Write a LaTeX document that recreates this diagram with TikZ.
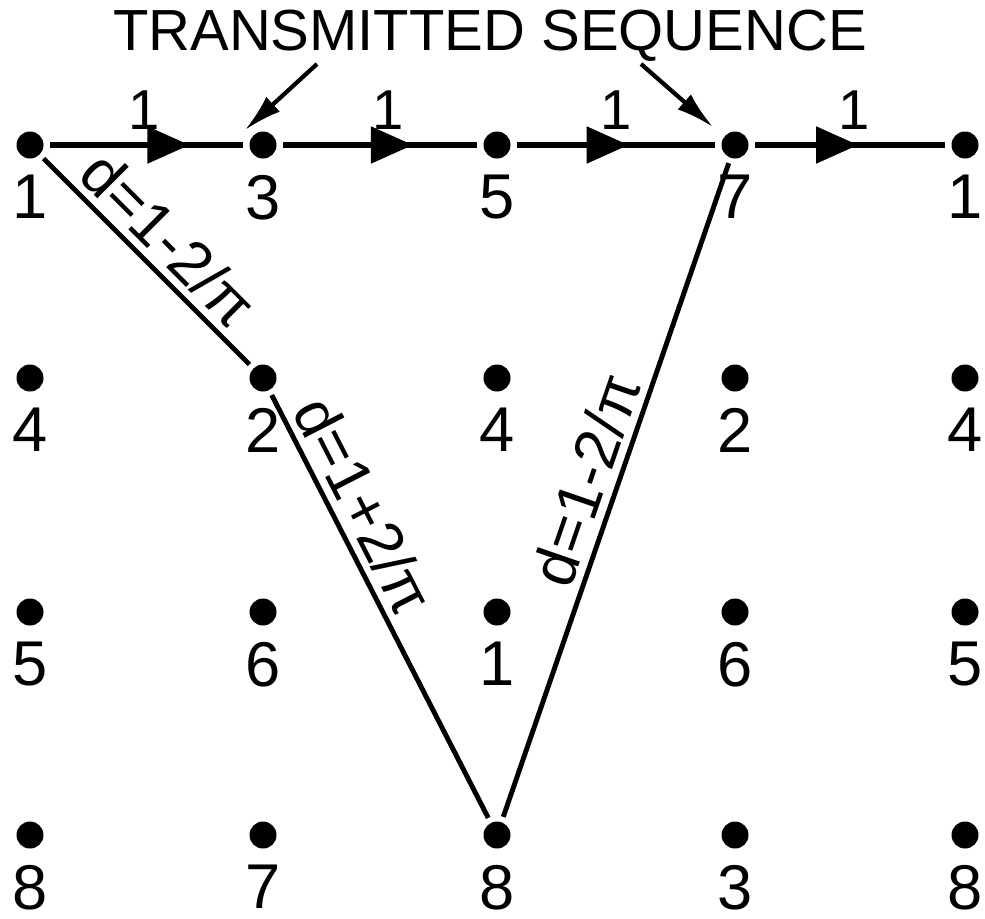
\documentclass[tikz,border=0pt]{standalone}
\usepackage{fontspec}
\setmainfont{Liberation Sans}
\usetikzlibrary{positioning,arrows.meta,decorations.markings}

\def\rowlabels{{1,3,5,7,1},{4,2,4,2,4},{5,6,1,6,5},{8,7,8,3,8}}

\begin{document}
\begin{tikzpicture}[
  dot/.style={circle,fill,inner sep=0pt,minimum size=0.27cm},
  num/.style={font=\fontsize{18}{18}\selectfont,inner sep=0pt},
  bit/.style={font=\fontsize{16}{16}\selectfont,inner sep=0pt},
  dist/.style={font=\fontsize{17.5}{17.5}\selectfont,sloped,above,inner sep=2pt},
  link/.style={line width=1.4pt,shorten <=0.05cm,shorten >=0.05cm},
  pointer/.style={line width=1.2pt,-{Latex[length=0.38cm,width=0.2cm]}},
  flow/.style={line width=1.5pt,shorten <=0.06cm,shorten >=0.06cm,postaction={decorate},
    decoration={markings,mark=at position #1 with {\arrow{Triangle[length=0.42cm,width=0.36cm]}}}}]
  \useasboundingbox (0,0) rectangle (9.85,-9.18);

  % signal points and their labels
  \foreach \y [count=\r from 0] in {-1.45,-3.78,-6.12,-8.35}
    \foreach \x [count=\c from 0] in {0.30,2.63,4.97,7.35,9.65} {
      \pgfmathtruncatemacro\lab{{\rowlabels}[\r][\c]}
      \node[dot] (d-\r-\c) at (\x,\y) {};
      \node[num,below=0.15cm of d-\r-\c] (n-\r-\c) {\lab};
    }

  % transmitted sequence
  \node[font=\fontsize{16.5}{16.5}\selectfont,inner sep=0pt] (head) at (4.90,-0.36) {TRANSMITTED SEQUENCE};
  \coordinate (s1) at (3.17,-0.64); \coordinate (t1) at (2.45,-1.30);
  \coordinate (s2) at (6.41,-0.64); \coordinate (t2) at (7.13,-1.27);
  \draw[pointer] (s1) -- (t1);
  \draw[pointer] (s2) -- (t2);

  \draw[flow=0.71] (d-0-0) -- (d-0-1) node[bit,pos=0.49,above=0.13cm] (w1) {1};
  \draw[flow=0.66] (d-0-1) -- (d-0-2) node[bit,pos=0.54,above=0.13cm] (w2) {1};
  \draw[flow=0.56] (d-0-2) -- (d-0-3) node[bit,pos=0.50,above=0.13cm] (w3) {1};
  \draw[flow=0.54] (d-0-3) -- (d-0-4) node[bit,pos=0.52,above=0.13cm] (w4) {1};

  % distances
  \draw[link] (d-0-0) -- (d-1-1) node[dist,pos=0.50] (e1) {d=1-2/π};
  \draw[link] (d-1-1) -- (d-3-2) node[dist,pos=0.30] (e2) {d=1+2/π};
  \draw[link] (d-3-2) -- (d-0-3) node[dist,pos=0.50] (e3) {d=1-2/π};
\end{tikzpicture}
\end{document}
